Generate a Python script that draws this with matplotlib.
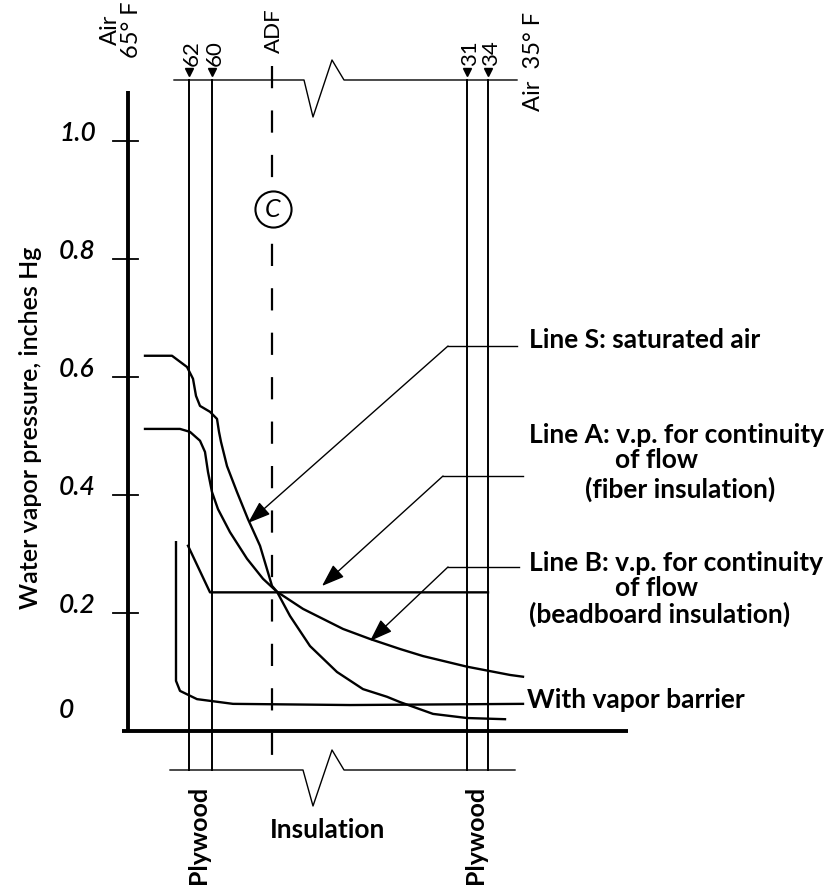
import matplotlib
matplotlib.use("Agg")
import matplotlib.pyplot as plt

plt.rcParams['font.family'] = ['Lato', 'DejaVu Sans']

# ---------------- data (x: position through wall, arbitrary units; y: vapor pressure, in Hg)
y_ticks = [0.0, 0.2, 0.4, 0.6, 0.8, 1.0]
y_tick_labels = ["0", "0.2", "0.4", "0.6", "0.8", "1.0"]

# layer boundaries (inside plywood faces, ADF plane, outside plywood faces)
layer_x = [61, 84, 339, 360]
layer_temps = ["62", "60", "31", "34"]
adf_x = 144

# Line S: saturated air
s_x = [17, 44, 59, 65, 68, 72, 82, 89, 91, 93, 99, 109, 120, 132, 144, 149,
       162, 182, 209, 235, 259, 272, 305, 339, 377]
s_y = [0.636, 0.636, 0.617, 0.597, 0.568, 0.551, 0.541, 0.529, 0.507, 0.490,
       0.449, 0.405, 0.359, 0.314, 0.246, 0.236, 0.195, 0.144, 0.100, 0.071,
       0.058, 0.049, 0.029, 0.022, 0.020]

# Line B: beadboard insulation
b_x = [17, 52, 62, 72, 77, 80, 84, 90, 102, 119, 135, 149, 175, 215, 242, 272,
       295, 339, 382, 395]
b_y = [0.512, 0.512, 0.507, 0.492, 0.473, 0.439, 0.405, 0.376, 0.337, 0.292,
       0.258, 0.236, 0.207, 0.173, 0.156, 0.139, 0.127, 0.109, 0.095, 0.092]

# Line A: fiber insulation
a_x = [60, 82, 360]
a_y = [0.314, 0.235, 0.235]

# With vapor barrier
v_x = [48, 48, 52, 69, 105, 222, 395]
v_y = [0.320, 0.085, 0.068, 0.054, 0.046, 0.044, 0.046]

# ---------------- figure
fig = plt.figure(figsize=(8.33, 8.87), dpi=100)
ax = fig.add_axes([0, 0, 1, 1])
ax.set_xlim(-128, 705)
ax.set_ylim((732 - 887) / 590, 732 / 590)
ax.axis('off')

K = 'black'
# axes
ax.plot([0, 0], [0, 1.085], color=K, lw=2.8, solid_capstyle='butt')
ax.plot([-6, 500], [0, 0], color=K, lw=2.8, solid_capstyle='butt')
for t, lab in zip(y_ticks, y_tick_labels):
    if t > 0:
        ax.plot([-15, 10], [t, t], color=K, lw=1.3)
        ax.text(-69, t + 0.002, lab, fontsize=19, style='italic',
                fontweight='semibold', ha='left', va='baseline')
    else:
        ax.text(-69, t + 0.024, lab, fontsize=19, style='italic',
                fontweight='semibold', ha='left', va='baseline')

ax.text(-97, 0.515, "Water vapor pressure, inches Hg", rotation=90,
        fontsize=18, fontweight='semibold', ha='center', va='center')

# top and bottom guide lines with break symbols
top_y, bot_y = 1.1034, -0.0661
ax.plot([46, 176, 185, 204, 216, 389],
        [top_y, top_y, 1.0407, 1.1373, top_y, top_y], color=K, lw=1.0)
ax.plot([42, 175, 185, 204, 216, 387],
        [bot_y, bot_y, -0.1271, -0.0322, bot_y, bot_y], color=K, lw=1.0)

# layer boundary lines
for lx in layer_x:
    ax.plot([lx, lx], [top_y, bot_y], color=K, lw=1.4)
for lx, lab in zip(layer_x, layer_temps):
    ax.plot([lx], [1.117], marker='v', color=K, markersize=6)
    ax.text(lx + 3, 1.128, lab, rotation=90, fontsize=16,
            ha='center', va='bottom')

# ADF dashed line
ln, = ax.plot([adf_x, adf_x], [1.127, -0.058], color=K, lw=1.6)
ln.set_dashes((10, 10))
ax.text(adf_x + 2, 1.150, "ADF", rotation=90, fontsize=16, ha='center', va='bottom')
ax.plot([adf_x + 1], [0.885], marker='o', markersize=26, markerfacecolor='white',
        markeredgecolor=K, markeredgewidth=1.5, zorder=5)
ax.text(adf_x + 1, 0.885, "C", fontsize=18, style='italic', ha='center',
        va='center', zorder=6)

# top air labels
ax.text(-7, 1.190, "Air\n65° F", rotation=90, fontsize=17, ha='center',
        va='center', multialignment='center', linespacing=1.0)
ax.text(406, 1.137, "Air  35° F", rotation=90, fontsize=17, ha='center', va='center')

# curves
ax.plot(s_x, s_y, color=K, lw=1.7, solid_joinstyle='round')
ax.plot(b_x, b_y, color=K, lw=1.7, solid_joinstyle='round')
ax.plot(a_x, a_y, color=K, lw=1.7, solid_joinstyle='round')
ax.plot(v_x, v_y, color=K, lw=1.7, solid_joinstyle='round')

# leaders with arrows
leaders = [((120, 0.3525), (320, 0.6525), 389),
           ((194, 0.2458), (315, 0.4322), 395),
           ((242, 0.1525), (320, 0.2780), 391)]
for tip, corner, xend in leaders:
    ax.annotate("", xy=tip, xytext=corner,
                arrowprops=dict(arrowstyle='-|>,head_length=0.7,head_width=0.25',
                                mutation_scale=20, lw=1.0, color=K,
                                shrinkA=0, shrinkB=0))
    ax.plot([corner[0], xend], [corner[1], corner[1]], color=K, lw=1.0)

fs = 19
ax.text(401, 0.664, "Line S: saturated air", fontsize=fs, fontweight='bold',
        ha='left', va='center')
ax.text(401, 0.503, "Line A: v.p. for continuity", fontsize=fs, fontweight='bold',
        ha='left', va='center')
ax.text(529, 0.4605, "of flow", fontsize=fs, fontweight='bold', ha='center', va='center')
ax.text(552, 0.4115, "(fiber insulation)", fontsize=fs, fontweight='bold',
        ha='center', va='center')
ax.text(401, 0.287, "Line B: v.p. for continuity", fontsize=fs, fontweight='bold',
        ha='left', va='center')
ax.text(529, 0.2445, "of flow", fontsize=fs, fontweight='bold', ha='center', va='center')
ax.text(401, 0.1995, "(beadboard insulation)", fontsize=fs, fontweight='bold',
        ha='left', va='center')
ax.text(399, 0.054, "With vapor barrier", fontsize=fs, fontweight='bold',
        ha='left', va='center')

# bottom labels
ax.text(71, -0.175, "Plywood", rotation=90, fontsize=18, fontweight='bold',
        ha='center', va='center')
ax.text(348, -0.175, "Plywood", rotation=90, fontsize=18, fontweight='bold',
        ha='center', va='center')
ax.text(200, -0.166, "Insulation", fontsize=19, fontweight='bold',
        ha='center', va='center')

fig.savefig("out.png", dpi=100)
